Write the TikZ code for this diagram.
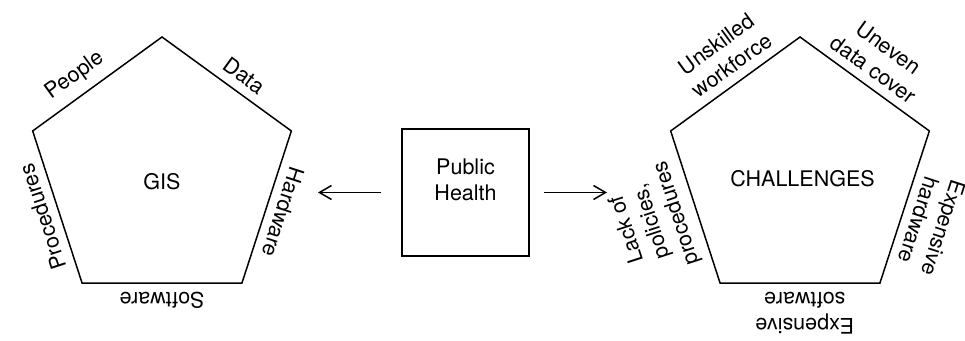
\documentclass[tikz,border=0pt]{standalone}
\usepackage{fontspec}
\setmainfont{TeX Gyre Heros}
\usetikzlibrary{shapes.geometric,arrows.meta}
\newcommand{\lbl}{\fontsize{21.5}{26}\selectfont}
\tikzset{
  pent/.style={draw, line width=1.5pt, regular polygon, regular polygon sides=5,
    minimum size=272pt, inner sep=0pt},
  side/.style={sloped, allow upside down, above=5pt, font=\lbl, align=center},
  arr/.style={-{Straight Barb[length=12pt,width=14pt]}, line width=1.5pt}
}
\begin{document}
\begin{tikzpicture}[x=1pt,y=1pt,font=\lbl]
\useasboundingbox (0,0) rectangle (965,340);
\node[pent] (gis) at (162,167) {};
\node (gist) at ([yshift=-8.5]gis.center) {GIS};
\path (gis.corner 1) -- node[side,pos=.56] {Data} (gis.corner 5);
\path (gis.corner 5) -- node[side,pos=.5] {Hardware} (gis.corner 4);
\path (gis.corner 4) -- node[side,pos=.5] {Software} (gis.corner 3);
\path (gis.corner 3) -- node[side,pos=.47] {Procedures} (gis.corner 2);
\path (gis.corner 2) -- node[side,pos=.42] {People} (gis.corner 1);
\node[pent] (chl) at (800,167) {};
\node (chlt) at ([xshift=2.5,yshift=-5.5]chl.center) {CHALLENGES};
\path (chl.corner 1) -- node[side,pos=.49] {Uneven\\data cover} (chl.corner 5);
\path (chl.corner 5) -- node[side,pos=.55] {Expensive\\hardware} (chl.corner 4);
\path (chl.corner 4) -- node[side,pos=.47] {Expensive\\software} (chl.corner 3);
\path (chl.corner 3) -- node[side,pos=.5] {Lack of\\policies,\\procedures} (chl.corner 2);
\path (chl.corner 2) -- node[side,pos=.55] {Unskilled\\workforce} (chl.corner 1);
\node[draw, line width=1.5pt, minimum size=127pt, inner sep=0pt] (ph) at (465.5,147.5) {};
\node[align=center] (pht) at ([yshift=12.5]ph.center) {Public\\Health};
\coordinate (lt) at (318,147.5);
\coordinate (rt) at (607,147.5);
\draw[arr] ([xshift=-20]ph.west) -- (lt);
\draw[arr] ([xshift=14]ph.east) -- (rt);
\end{tikzpicture}
\end{document}
